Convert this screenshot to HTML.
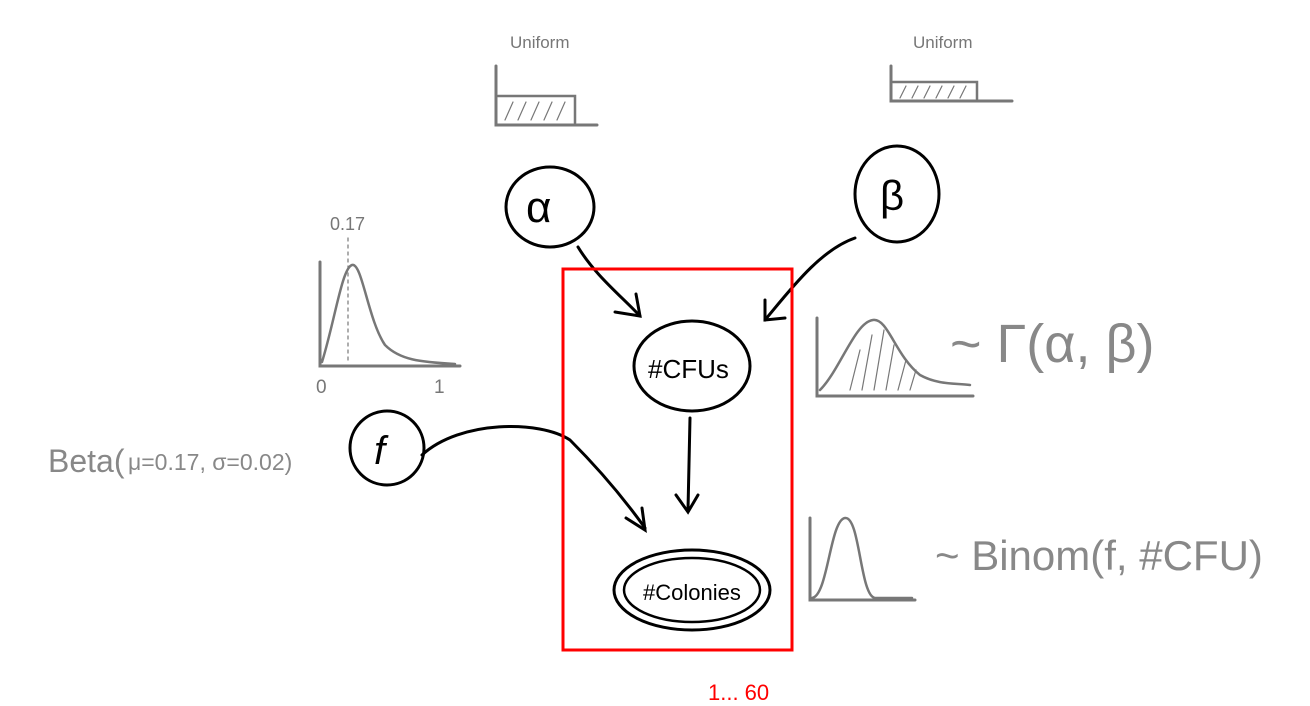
<!DOCTYPE html>
<html><head><meta charset="utf-8"><style>
html,body{margin:0;padding:0;background:#fff;}
svg{display:block;}
text{font-family:"Liberation Sans",sans-serif;}
</style></head><body>
<svg width="1310" height="706" viewBox="0 0 1310 706">
<g stroke="#777" fill="none" stroke-width="3" stroke-linecap="round">
  <g>
    <text x="510" y="48" font-size="17" fill="#777" stroke="none">Uniform</text>
    <path d="M496 66 L496 125 L597 125"/>
    <path d="M498 96 L575 96 L575 123" stroke-width="2.5"/>
    <path d="M505 120 l8 -18 M518 120 l8 -18 M531 120 l8 -18 M544 120 l8 -18 M557 120 l8 -18" stroke-width="1.2"/>
  </g>
  <g>
    <text x="913" y="48" font-size="17" fill="#777" stroke="none">Uniform</text>
    <path d="M891 66 L891 101 L1012 101"/>
    <path d="M893 82 L977 82 L977 99" stroke-width="2.5"/>
    <path d="M900 98 l6 -12 M912 98 l6 -12 M924 98 l6 -12 M936 98 l6 -12 M948 98 l6 -12 M960 98 l6 -12" stroke-width="1.2"/>
  </g>
  <g>
    <text x="330" y="230" font-size="18" fill="#777" stroke="none">0.17</text>
    <path d="M320 262 L320 366 L460 366"/>
    <path d="M322 362 C335 320 342 268 352 265 C362 262 368 320 385 345 C400 360 420 362 455 364" stroke-width="2.5"/>
    <path d="M348 238 L348 364" stroke-dasharray="3 4" stroke-width="1.2"/>
    <text x="316" y="393" font-size="19" fill="#777" stroke="none">0</text>
    <text x="434" y="393" font-size="19" fill="#777" stroke="none">1</text>
  </g>
  <g>
    <text x="48" y="472" font-size="32" fill="#888" stroke="none">Beta(</text>
    <text x="128" y="470" font-size="23" fill="#888" stroke="none">μ=0.17, σ=0.02)</text>
  </g>
  <g>
    <path d="M817 318 L817 396 L973 396"/>
    <path d="M820 390 C840 370 855 322 873 320 C888 318 895 355 920 375 C938 385 955 383 970 385" stroke-width="2.5"/>
    <path d="M850 390 l10 -40 M862 390 l10 -55 M874 390 l10 -60 M886 390 l8 -45 M898 390 l8 -30 M910 390 l6 -20" stroke-width="1.2"/>
    <text x="950" y="362" font-size="54" fill="#888" stroke="none">~ Γ(α, β)</text>
  </g>
  <g>
    <path d="M810 518 L810 600 L915 600"/>
    <path d="M812 598 C828 596 830 520 845 518 C860 516 860 596 875 598 L912 598" stroke-width="2.5"/>
    <text x="935" y="570" font-size="42" fill="#888" stroke="none">~ Binom(f, #CFU)</text>
  </g>
</g>
<g stroke="#000" fill="none" stroke-width="3" stroke-linecap="round">
  <ellipse cx="550" cy="207" rx="44" ry="40"/>
  <text x="526" y="222" font-size="44" fill="#000" stroke="none">α</text>
  <ellipse cx="897" cy="194" rx="42" ry="48"/>
  <text x="880" y="210" font-size="42" fill="#000" stroke="none">β</text>
  <ellipse cx="387" cy="448" rx="37" ry="37"/>
  <text x="374" y="464" font-size="40" font-style="italic" fill="#000" stroke="none">f</text>
  <ellipse cx="692" cy="366" rx="58" ry="45"/>
  <text x="648" y="378" font-size="26" fill="#000" stroke="none">#CFUs</text>
  <ellipse cx="692" cy="590" rx="78" ry="40"/>
  <ellipse cx="692" cy="590" rx="68" ry="32" stroke-width="2.5"/>
  <text x="643" y="600" font-size="22" fill="#000" stroke="none">#Colonies</text>
  <path d="M578 247 C595 275 620 295 640 316"/>
  <path d="M615 312 L640 316 L636 294"/>
  <path d="M855 238 C820 250 790 290 765 320"/>
  <path d="M765 300 L765 320 L785 318"/>
  <path d="M690 418 L688 510"/>
  <path d="M676 495 L688 512 L698 495"/>
  <path d="M422 455 C460 420 540 420 570 440 C600 470 625 500 645 528"/>
  <path d="M626 518 L645 530 L642 508"/>
</g>
<rect x="563" y="269" width="229" height="381" fill="none" stroke="#f00" stroke-width="3"/>
<text x="708" y="700" font-size="22" fill="#f00">1... 60</text>
</svg>
</body></html>
